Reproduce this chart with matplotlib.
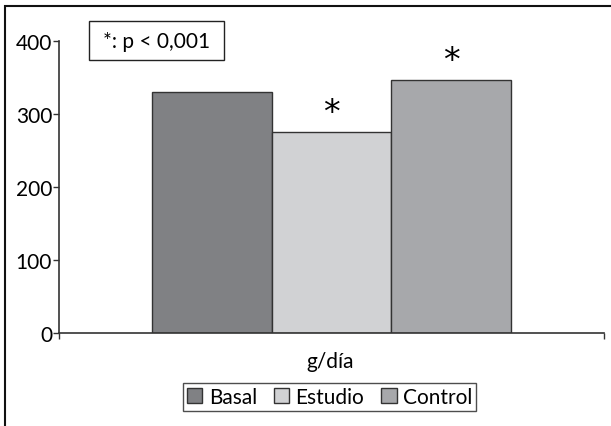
import matplotlib
matplotlib.use("Agg")
import matplotlib.pyplot as plt
from matplotlib.patches import Rectangle

plt.rcParams["font.family"] = ["Lato", "DejaVu Sans"]

groups = ["Basal", "Estudio", "Control"]
values = [330, 276, 347]
significant = [False, True, True]
colors = ["#808184", "#d1d2d4", "#a7a8ab"]
category = "g/día"
note = "*: p < 0,001"
yticks = [0, 100, 200, 300, 400]

W, H = 611, 427
FS = 15
fig = plt.figure(figsize=(W / 100, H / 100), dpi=100)
ax = fig.add_axes([59 / W, 1 - 334 / H, (604 - 59) / W, (334 - 42) / H])

width = 0.22
xs = [0.5 + (i - 1) * width for i in range(len(groups))]
bars = ax.bar(xs, values, width=width, color=colors, edgecolor="#333333",
              linewidth=1.0, label=groups, zorder=2)

for x, v, s in zip(xs, values, significant):
    if s:
        ax.annotate("*", (x, v), xytext=(0, 2), textcoords="offset points",
                    ha="center", va="bottom", fontsize=24,
                    family="DejaVu Sans")

ax.set_xlim(0, 1)
ax.set_ylim(0, 400)
ax.set_yticks(yticks)
ax.set_xticks([0, 1])
ax.set_xticklabels([])
ax.tick_params(axis="both", direction="out", length=4, width=1,
               color="#333333", labelsize=FS, pad=1)
for side in ("top", "right"):
    ax.spines[side].set_visible(False)
for side in ("left", "bottom"):
    ax.spines[side].set_color("#333333")
    ax.spines[side].set_linewidth(1.2)

fig.text(330 / W, 1 - 362 / H, category, ha="center", va="center", fontsize=FS)

leg = fig.legend(handles=bars, labels=groups, loc="center",
                 bbox_to_anchor=(329.5 / W, 1 - 398 / H), ncol=3,
                 fontsize=FS, frameon=True, fancybox=False,
                 handlelength=0.75, handleheight=0.75, handletextpad=0.3,
                 columnspacing=0.8, borderpad=0.2, borderaxespad=0)
leg.get_frame().set_edgecolor("#222222")
leg.get_frame().set_linewidth(1.0)

# p-value note box
fig.add_artist(Rectangle((89 / W, 1 - 61 / H), 135 / W, 39 / H,
                         transform=fig.transFigure, fill=False,
                         edgecolor="#222222", linewidth=1.0))
fig.text(156.5 / W, 1 - 41.5 / H, note, ha="center", va="center", fontsize=FS)

# outer frame, open on the right and bottom
fig.add_artist(Rectangle((5 / W, -0.1), 1.2, 1.1 - 7 / H,
                         transform=fig.transFigure, fill=False,
                         edgecolor="#111111", linewidth=1.5, clip_on=False))

fig.savefig("out.png", dpi=100)
